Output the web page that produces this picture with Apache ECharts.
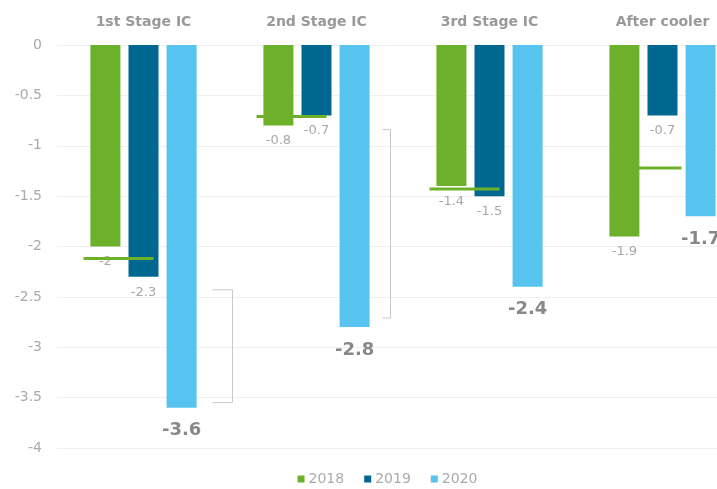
<!DOCTYPE html>
<html>
<head>
<meta charset="utf-8">
<script src="https://cdn.jsdelivr.net/npm/echarts@6/dist/echarts.min.js"></script>
<style>html,body{margin:0;padding:0;background:#fff;overflow:hidden;}#c{width:775px;height:489px;}</style>
</head>
<body>
<div id="c"></div>
<script>
var categories = ['1st Stage IC', '2nd Stage IC', '3rd Stage IC', 'After cooler'];
var seriesNames = ['2018', '2019', '2020'];
var values2018 = [-2, -0.8, -1.4, -1.9];
var values2019 = [-2.3, -0.7, -1.5, -0.7];
var values2020 = [-3.6, -2.8, -2.4, -1.7];
var markerValues = [-2.12, -0.71, -1.43, -1.22];
var bracketCats = [0, 1];
var bracketTop = [-2.43, -0.84];
var bracketBottom = [-3.55, -2.71];
var yTicks = [0, -0.5, -1, -1.5, -2, -2.5, -3, -3.5, -4];

var FONT = '"DejaVu Sans", "Liberation Sans", Arial, sans-serif';
var colors = ['#6db12a', '#006890', '#56c4ee'];

var chart = echarts.init(document.getElementById('c'), null, {renderer: 'canvas'});

function smallLabel() {
  return {show: true, position: 'bottom', distance: 9, color: '#a8a8a8', fontSize: 13, fontFamily: FONT};
}
function bigLabel() {
  return {show: true, position: 'bottom', distance: 14, color: '#888', fontSize: 18, fontWeight: 'bold', fontFamily: FONT};
}

var markerData = markerValues.map(function (v, i) { return [i, v]; });
var bracketData = bracketCats.map(function (c, i) { return [c, bracketTop[i], bracketBottom[i]]; });

var option = {
  backgroundColor: '#fff',
  animation: false,
  grid: {left: 57, top: 45, width: 692, height: 403, containLabel: false},
  legend: {
    data: seriesNames,
    bottom: -2,
    left: 'center',
    icon: 'rect',
    itemWidth: 7,
    itemHeight: 7,
    itemGap: 20,
    textStyle: {color: '#aaa', fontSize: 14, fontFamily: FONT, padding: [0, 0, 0, -1]}
  },
  xAxis: {
    type: 'category',
    position: 'top',
    data: categories,
    axisLine: {show: false},
    axisTick: {show: false},
    axisLabel: {color: '#999', fontSize: 14, fontWeight: 'bold', fontFamily: FONT, margin: 16}
  },
  yAxis: {
    type: 'value',
    min: -4,
    max: 0,
    interval: 0.5,
    axisLine: {show: false},
    axisTick: {show: false},
    splitLine: {lineStyle: {color: '#f0f0f0', width: 1}},
    axisLabel: {
      color: '#aaa', fontSize: 14, fontFamily: FONT, margin: 15,
      formatter: function (v) { return yTicks.indexOf(v) >= 0 ? String(v) : ''; }
    }
  },
  series: [
    {name: seriesNames[0], type: 'bar', data: values2018, barWidth: 30, barGap: '27%',
     itemStyle: {color: colors[0]}, label: smallLabel()},
    {name: seriesNames[1], type: 'bar', data: values2019, barWidth: 30, barGap: '27%',
     itemStyle: {color: colors[1]}, label: smallLabel()},
    {name: seriesNames[2], type: 'bar', data: values2020, barWidth: 30, barGap: '27%',
     itemStyle: {color: colors[2]}, label: bigLabel()},
    {
      name: 'marker', type: 'custom', data: markerData, z: 5,
      encode: {x: 0, y: 1},
      renderItem: function (params, api) {
        var p = api.coord([api.value(0), api.value(1)]);
        var last = params.dataIndex === 3;
        var x0 = p[0] + (last ? -25 : -60), x1 = p[0] + (last ? 19 : 10);
        return {type: 'line', shape: {x1: x0, y1: p[1], x2: x1, y2: p[1]},
                style: {stroke: colors[0], lineWidth: 3}};
      }
    },
    {
      name: 'bracket', type: 'custom', data: bracketData, z: 4,
      encode: {x: 0, y: [1, 2]},
      renderItem: function (params, api) {
        var a = api.coord([api.value(0), api.value(1)]);
        var b = api.coord([api.value(0), api.value(2)]);
        var dx = params.dataIndex === 0 ? 88.5 : 73.5;
        var tick = params.dataIndex === 0 ? 20 : 8;
        var x = Math.round(a[0] + dx) + 0.5;
        return {type: 'polyline',
                shape: {points: [[x - tick, a[1]], [x, a[1]], [x, b[1]], [x - tick, b[1]]]},
                style: {stroke: '#c8c8c8', lineWidth: 1, fill: null}};
      }
    }
  ]
};
chart.setOption(option);
</script>
</body>
</html>
